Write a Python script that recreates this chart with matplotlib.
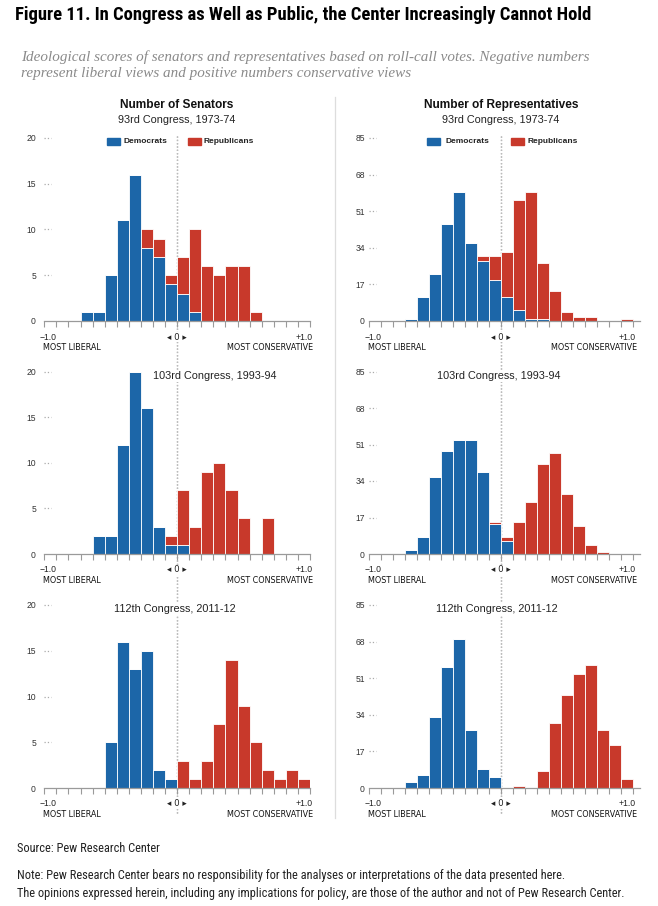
import numpy as np
import matplotlib
matplotlib.use("Agg")
import matplotlib.pyplot as plt
from matplotlib.patches import Rectangle
from matplotlib.lines import Line2D
import matplotlib.transforms as mtransforms

# ========================================
# Data (counts per ideology bin, 22 bins of width 1/11 from -1 to +1)
# ========================================

BIN_LEFT = np.linspace(-1.0, 1.0, 23)[:-1]
BIN_WIDTH = 2.0 / 22

sen93_dem = [0, 0, 0, 1, 1, 5, 11, 16, 8, 7, 4, 3, 1, 0, 0, 0, 0, 0, 0, 0, 0, 0]
sen93_rep = [0, 0, 0, 0, 0, 0, 0, 0, 2, 2, 1, 4, 9, 6, 5, 6, 6, 1, 0, 0, 0, 0]

house93_dem = [0, 0, 0, 1, 11, 22, 45, 60, 36, 28, 19, 11, 5, 1, 1, 0, 0, 0, 0, 0, 0, 0]
house93_rep = [0, 0, 0, 0, 0, 0, 0, 0, 0, 2, 11, 21, 51, 59, 26, 14, 4, 2, 2, 0, 0, 1]

sen103_dem = [0, 0, 0, 0, 2, 2, 12, 20, 16, 3, 1, 1, 0, 0, 0, 0, 0, 0, 0, 0, 0, 0]
sen103_rep = [0, 0, 0, 0, 0, 0, 0, 0, 0, 0, 1, 6, 3, 9, 10, 7, 4, 0, 4, 0, 0, 0]

house103_dem = [0, 0, 0, 2, 8, 36, 48, 53, 53, 38, 14, 6, 0, 0, 0, 0, 0, 0, 0, 0, 0, 0]
house103_rep = [0, 0, 0, 0, 0, 0, 0, 0, 0, 0, 1, 2, 15, 24, 42, 47, 28, 13, 4, 1, 0, 0]

sen112_dem = [0, 0, 0, 0, 0, 5, 16, 13, 15, 2, 1, 0, 0, 0, 0, 0, 0, 0, 0, 0, 0, 0]
sen112_rep = [0, 0, 0, 0, 0, 0, 0, 0, 0, 0, 0, 3, 1, 3, 7, 14, 9, 5, 2, 1, 2, 1]

house112_dem = [0, 0, 0, 3, 6, 33, 56, 69, 27, 9, 5, 0, 0, 0, 0, 0, 0, 0, 0, 0, 0, 0]
house112_rep = [0, 0, 0, 0, 0, 0, 0, 0, 0, 0, 0, 0, 1, 0, 8, 30, 43, 53, 57, 27, 20, 4]

congress_labels = ["93rd Congress, 1973-74", "103rd Congress, 1993-94", "112th Congress, 2011-12"]
senate_ticks = [0, 5, 10, 15, 20]
house_ticks = [0, 17, 34, 51, 68, 85]

# ========================================
# Style
# ========================================

BLUE = "#1c66a8"
RED = "#c8392b"
CONDENSED = ["Roboto Condensed", "Lato", "DejaVu Sans"]
SANS = ["Liberation Sans", "DejaVu Sans"]
LABEL = ["DejaVu Sans"]

W, H = 658, 906
fig = plt.figure(figsize=(W / 100, H / 100), dpi=100)


def fx(x):
    return x / W


def fy(y):
    return 1 - y / H


def ftext(x, y, s, **kw):
    return fig.text(fx(x), fy(y), s, **kw)


# ========================================
# Panels
# ========================================

# (left px, right px, xmax) for each column; (top px, bottom px) for each row
columns = [(44.3, 310.0, 1.0), (369.0, 639.6, 1.05)]
rows = [(138, 321), (371.5, 554), (605, 788)]

panel_data = [
    [(sen93_dem, sen93_rep), (house93_dem, house93_rep)],
    [(sen103_dem, sen103_rep), (house103_dem, house103_rep)],
    [(sen112_dem, sen112_rep), (house112_dem, house112_rep)],
]
subtitle_x = [[177, 501], [215, 499], [175, 497]]
subtitle_y = [120, 376, 609]

for r, (ytop, ybot) in enumerate(rows):
    for c, (xl, xr, xmax) in enumerate(columns):
        dem, rep = panel_data[r][c]
        ymax = 20 if c == 0 else 85
        yticks = senate_ticks if c == 0 else house_ticks

        ax = fig.add_axes([fx(xl), fy(ybot), fx(xr - xl), (ybot - ytop) / H])
        ax.set_facecolor("none")
        ax.bar(BIN_LEFT, dem, width=BIN_WIDTH, align="edge", color=BLUE,
               edgecolor="white", linewidth=0.6, zorder=2)
        ax.bar(BIN_LEFT, rep, bottom=dem, width=BIN_WIDTH, align="edge", color=RED,
               edgecolor="white", linewidth=0.6, zorder=2)
        ax.set_xlim(-1.0, xmax)
        ax.set_ylim(0, ymax)

        for side in ["top", "right", "left"]:
            ax.spines[side].set_visible(False)
        ax.spines["bottom"].set_color("#9a9a9a")
        ax.spines["bottom"].set_linewidth(0.9)
        ax.spines["bottom"].set_zorder(3)

        ax.set_xticks(np.linspace(-1.0, 1.0, 23))
        ax.set_xticklabels([])
        ax.tick_params(axis="x", direction="out", length=4, width=0.8, color="#9a9a9a")
        ax.set_yticks(yticks)
        ax.set_yticklabels([str(t) for t in yticks], fontsize=6.2, color="#333333",
                           family=SANS)
        ax.tick_params(axis="y", length=0, pad=6 if c == 0 else 3)

        # short dotted tick guides
        trans = mtransforms.blended_transform_factory(ax.transAxes, ax.transData)
        for t in yticks[1:]:
            ax.plot([0.0, 0.025], [t, t], transform=trans, ls=":", color="#aaaaaa",
                    lw=0.9, clip_on=False)

        # x axis labels
        x0 = xl + (xr - xl) * (0 - (-1)) / (xmax + 1)
        x_m1 = xl
        x_p1 = xl + (xr - xl) * 2 / (xmax + 1)
        ftext(x_m1 + 4, ybot + 16, "\u22121.0", ha="center", va="center",
              fontsize=6.2, color="#222222", family=SANS)
        ftext(x_p1 - 6, ybot + 16, "+1.0", ha="center", va="center",
              fontsize=6.2, color="#222222", family=SANS)
        ftext(x0, ybot + 16, "\u25c2 0 \u25b8", ha="center", va="center",
              fontsize=6.2, color="#222222", family=LABEL, zorder=5,
              bbox=dict(facecolor="white", edgecolor="none", pad=0.5))
        ftext(x_m1 - 1, ybot + 26.5, "MOST LIBERAL", ha="left", va="center",
              fontsize=5.8, color="#111111", family=LABEL)
        ftext(xr + (3 if c == 0 else -2), ybot + 26.5, "MOST CONSERVATIVE", ha="right",
              va="center", fontsize=5.8, color="#111111", family=LABEL)

        # congress label
        ftext(subtitle_x[r][c], subtitle_y[r], congress_labels[r], ha="center",
              va="center", fontsize=7.8, color="#222222", family=SANS, zorder=5,
              bbox=dict(facecolor="white", edgecolor="none", pad=1.0))

        # center dotted line
        fig.add_artist(Line2D([fx(x0), fx(x0)], [fy(136), fy(815)], ls=":",
                              color="#bbbbbb", lw=0.9, zorder=-1))

# column headers
ftext(177, 105, "Number of Senators", ha="center", va="center", fontsize=8.6,
      fontweight="bold", color="#111111", family=SANS)
ftext(501, 105, "Number of Representatives", ha="center", va="center", fontsize=8.6,
      fontweight="bold", color="#111111", family=SANS)

# legends
legend_items = [
    (107, 123, 188, 204),
    (427, 445, 511, 528),
]
for bx, tx, rx, rtx in legend_items:
    fig.add_artist(Rectangle((fx(bx), fy(145)), fx(13), 7 / H, color=BLUE,
                             transform=fig.transFigure, zorder=5))
    ftext(tx, 141.5, "Democrats", ha="left", va="center", fontsize=6.0,
          fontweight="bold", color="#222222", family=SANS, zorder=5,
          bbox=dict(facecolor="white", edgecolor="none", pad=0.3))
    fig.add_artist(Rectangle((fx(rx), fy(145)), fx(13), 7 / H, color=RED,
                             transform=fig.transFigure, zorder=5))
    ftext(rtx, 141.5, "Republicans", ha="left", va="center", fontsize=6.0,
          fontweight="bold", color="#222222", family=SANS, zorder=5)

# column divider
fig.add_artist(Line2D([fx(335), fx(335)], [fy(97), fy(818)], color="#dddddd", lw=0.9))

# ========================================
# Titles and notes
# ========================================

ftext(15, 15, "Figure 11. In Congress as Well as Public, the Center Increasingly Cannot Hold",
      ha="left", va="center", fontsize=13.4, fontweight="bold", color="black",
      family=CONDENSED)
ftext(21, 65, "Ideological scores of senators and representatives based on roll-call votes. "
      "Negative numbers\nrepresent liberal views and positive numbers conservative views",
      ha="left", va="center", fontsize=10.9, style="italic", color="#8a8a8a",
      family=["Liberation Serif", "DejaVu Serif"], linespacing=1.3)

ftext(17, 848, "Source: Pew Research Center", ha="left", va="center", fontsize=8.9,
      color="#222222", family=CONDENSED)
ftext(17, 876, "Note: Pew Research Center bears no responsibility for the analyses or "
      "interpretations of the data presented here.", ha="left", va="center",
      fontsize=8.9, color="#222222", family=CONDENSED)
ftext(17, 893, "The opinions expressed herein, including any implications for policy, "
      "are those of the author and not of Pew Research Center.", ha="left",
      va="center", fontsize=8.9, color="#222222", family=CONDENSED)

fig.savefig("out.png", dpi=100)
